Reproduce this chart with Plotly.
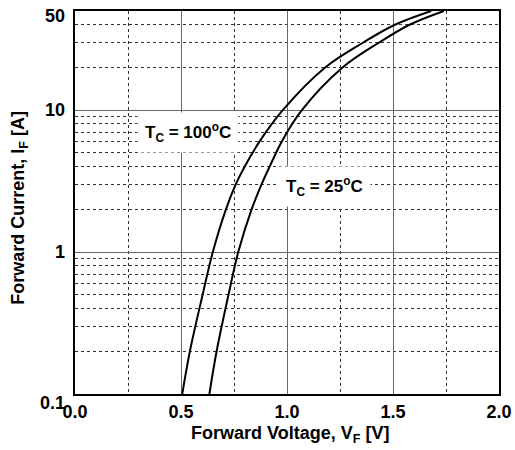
import math
import plotly.graph_objects as go

# Data
current_A = [0.1, 0.2, 0.5, 1, 2, 3, 4, 6, 10, 20, 30, 40, 50]
vf_100C = [0.506, 0.542, 0.602, 0.650, 0.712, 0.758, 0.80, 0.87, 0.98, 1.18, 1.36, 1.509, 1.68]
vf_25C = [0.634, 0.668, 0.724, 0.770, 0.833, 0.88, 0.918, 0.975, 1.07, 1.262, 1.435, 1.578, 1.74]

x_ticks = [0.0, 0.5, 1.0, 1.5, 2.0]
x_ticktext = ["0.0", "0.5", "1.0", "1.5", "2.0"]
x_minor = [0.25, 0.75, 1.25, 1.75]
y_ticks = [0.1, 1, 10, 50]
y_ticktext = ["0.1", "1", "10", "50"]
y_label_shift = [-9, 0, 0, -5]
y_minor = [0.2, 0.3, 0.4, 0.5, 0.6, 0.7, 0.8, 0.9,
           2, 3, 4, 5, 6, 7, 8, 9, 20, 30, 40]

FONT = "Liberation Sans, Arial, sans-serif"
BOLD18 = dict(family=FONT, size=18, color="black", weight="bold")
BOLD17 = dict(family=FONT, size=17, color="black", weight="bold")

fig = go.Figure()
for v in (vf_100C, vf_25C):
    fig.add_trace(go.Scatter(x=v, y=current_A, mode="lines",
                             line=dict(color="black", width=2, shape="spline", smoothing=1.0),
                             showlegend=False, hoverinfo="skip"))

fig.update_layout(
    width=515, height=450,
    margin=dict(l=75, r=16, t=11, b=56),
    paper_bgcolor="white", plot_bgcolor="white",
    font=dict(family=FONT, color="black"),
    xaxis=dict(range=[0, 2], tickvals=x_ticks, ticktext=x_ticktext,
               showgrid=True, gridcolor="#666666", gridwidth=1,
               showline=True, linecolor="black", linewidth=2, mirror=True,
               ticks="", zeroline=False, automargin=False, ticklabelstandoff=0,
               tickfont=BOLD18,
               minor=dict(tickmode="array", tickvals=x_minor, showgrid=True,
                          gridcolor="#333333", griddash="dot", gridwidth=1, ticks="")),
    yaxis=dict(type="log", range=[math.log10(0.1), math.log10(50)], tickvals=y_ticks,
               showticklabels=False,
               showgrid=True, gridcolor="#666666", gridwidth=1,
               showline=True, linecolor="black", linewidth=2, mirror=True,
               ticks="", zeroline=False, automargin=False,
               minor=dict(tickmode="array", tickvals=y_minor, showgrid=True,
                          gridcolor="#333333", griddash="dot", gridwidth=1, ticks="")),
)

# y tick labels (annotations on a log axis take log10 positions)
for val, txt, sh in zip(y_ticks, y_ticktext, y_label_shift):
    fig.add_annotation(x=0, xref="paper", y=math.log10(val) * 0.999999, yref="y", text=txt,
                       showarrow=False, xanchor="right", yanchor="middle",
                       xshift=-8, yshift=sh, font=BOLD18)

fig.add_annotation(x=0.508, y=-0.107, xref="paper", yref="paper",
                   text="Forward Voltage, V<sub>F</sub> [V]", showarrow=False,
                   font=BOLD18, xanchor="center", yanchor="middle")
fig.add_annotation(x=-0.13, y=0.486, xref="paper", yref="paper",
                   text="Forward Current, I<sub>F</sub> [A]", showarrow=False,
                   textangle=-90, font=BOLD18,
                   xanchor="center", yanchor="middle")

fig.add_annotation(x=0.535, y=0.846, xref="x", yref="y",
                   text="T<sub>C</sub> = 100<sup>o</sup>C", showarrow=False,
                   bgcolor="white", borderpad=7, font=BOLD17)
fig.add_annotation(x=1.179, y=0.459, xref="x", yref="y",
                   text="T<sub>C</sub> = 25<sup>o</sup>C", showarrow=False,
                   bgcolor="white", borderpad=7, font=BOLD17)

fig.write_html("out.html")
